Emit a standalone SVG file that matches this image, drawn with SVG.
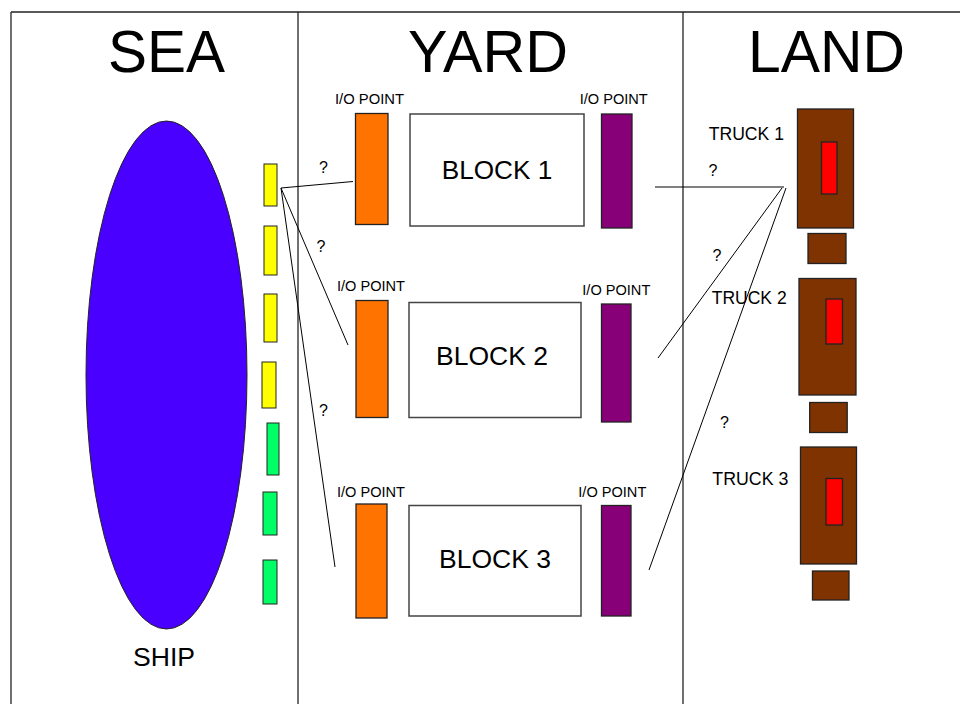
<svg xmlns="http://www.w3.org/2000/svg" width="960" height="704" viewBox="0 0 960 704">
<style>
text{font-family:"Liberation Sans",Arial,sans-serif;fill:#000}
.title{font-size:60px;text-anchor:middle}
.blk{font-size:26px;text-anchor:middle}
.io{font-size:14px}
.trk{font-size:17.5px}
.q{font-size:16px}
.lbl{font-size:25px;text-anchor:middle}
.frame{stroke:#222;stroke-width:1.3;fill:none}
.conn line{stroke:#000;stroke-width:1}
.block{fill:#fff;stroke:#444;stroke-width:1.5}
.yel{fill:#ffff00;stroke:#222;stroke-width:1}
.grn{fill:#00ff66;stroke:#222;stroke-width:1}
.org{fill:#ff7300;stroke:#222;stroke-width:1.3}
.pur{fill:#870077;stroke:#222;stroke-width:1.3}
.brn{fill:#7f3300;stroke:#222;stroke-width:1.3}
.red{fill:#ff0000;stroke:#222;stroke-width:1.3}
</style>
<rect width="960" height="704" fill="#fff"/>
<g id="frame">
<line class="frame" x1="11" y1="12" x2="960" y2="12"/>
<line class="frame" x1="11" y1="12" x2="11" y2="704"/>
<line class="frame" x1="298" y1="12" x2="298" y2="704"/>
<line class="frame" x1="683" y1="12" x2="683" y2="704"/>
</g>
<g id="titles">
<text class="title" x="166.5" y="72" textLength="117" lengthAdjust="spacingAndGlyphs">SEA</text>
<text class="title" x="488" y="72" textLength="160" lengthAdjust="spacingAndGlyphs">YARD</text>
<text class="title" x="826.5" y="72" textLength="157" lengthAdjust="spacingAndGlyphs">LAND</text>
</g>
<g id="ship">
<ellipse cx="166.5" cy="375" rx="80.5" ry="254" fill="#4a00ff" stroke="#222" stroke-width="1"/>
<text class="lbl" x="164" y="666" textLength="62" lengthAdjust="spacingAndGlyphs">SHIP</text>
</g>
<g id="quay">
<rect class="yel" x="264" y="164" width="13" height="42"/>
<rect class="yel" x="264" y="226" width="13" height="49"/>
<rect class="yel" x="264" y="294" width="13" height="48"/>
<rect class="yel" x="262" y="362" width="14" height="46"/>
<rect class="grn" x="267" y="423" width="12" height="52"/>
<rect class="grn" x="263" y="492" width="14" height="43"/>
<rect class="grn" x="263" y="560" width="14" height="44"/>
</g>
<g id="connectors" class="conn">
<line x1="281" y1="188" x2="353" y2="181.5"/>
<line x1="281" y1="188" x2="348" y2="345"/>
<line x1="281" y1="188" x2="335" y2="567"/>
<line x1="655" y1="187" x2="784" y2="187"/>
<line x1="782" y1="188" x2="658" y2="358"/>
<line x1="786" y1="188" x2="649" y2="570"/>
</g>
<g id="questions">
<text class="q" x="319" y="172.5">?</text>
<text class="q" x="316.5" y="251.5">?</text>
<text class="q" x="319" y="416">?</text>
<text class="q" x="708.5" y="176">?</text>
<text class="q" x="712.5" y="260.5">?</text>
<text class="q" x="720" y="427.5">?</text>
</g>
<g id="block1">
<text class="io" x="335" y="104.3" textLength="69" lengthAdjust="spacingAndGlyphs">I/O POINT</text>
<rect class="org" x="355.5" y="113.5" width="32.5" height="111"/>
<rect class="block" x="410" y="114" width="174" height="112"/>
<text class="blk" x="497" y="178.7" textLength="110.6" lengthAdjust="spacingAndGlyphs">BLOCK 1</text>
<text class="io" x="579.7" y="104.3" textLength="68" lengthAdjust="spacingAndGlyphs">I/O POINT</text>
<rect class="pur" x="601.5" y="114" width="30.5" height="114"/>
</g>
<g id="block2">
<text class="io" x="337" y="291" textLength="68" lengthAdjust="spacingAndGlyphs">I/O POINT</text>
<rect class="org" x="356" y="300.5" width="32" height="117"/>
<rect class="block" x="409" y="302.5" width="172" height="115"/>
<text class="blk" x="492" y="365.3" textLength="112" lengthAdjust="spacingAndGlyphs">BLOCK 2</text>
<text class="io" x="582.3" y="295.3" textLength="68" lengthAdjust="spacingAndGlyphs">I/O POINT</text>
<rect class="pur" x="601.5" y="304" width="29.5" height="118"/>
</g>
<g id="block3">
<text class="io" x="337" y="497.3" textLength="68" lengthAdjust="spacingAndGlyphs">I/O POINT</text>
<rect class="org" x="356" y="504" width="31" height="114"/>
<rect class="block" x="409" y="505.5" width="172" height="110.5"/>
<text class="blk" x="495" y="568" textLength="112" lengthAdjust="spacingAndGlyphs">BLOCK 3</text>
<text class="io" x="578.3" y="497.3" textLength="68" lengthAdjust="spacingAndGlyphs">I/O POINT</text>
<rect class="pur" x="601.5" y="505.5" width="29.5" height="110.5"/>
</g>
<g id="truck1">
<text class="trk" x="708.7" y="140" textLength="75.3" lengthAdjust="spacingAndGlyphs">TRUCK 1</text>
<rect class="brn" x="797.5" y="109" width="56" height="119"/>
<rect class="red" x="821.5" y="142" width="15.5" height="52"/>
<rect class="brn" x="808" y="233.5" width="38" height="30"/>
</g>
<g id="truck2">
<text class="trk" x="711.7" y="304.3" textLength="75" lengthAdjust="spacingAndGlyphs">TRUCK 2</text>
<rect class="brn" x="799" y="278.5" width="57" height="116.5"/>
<rect class="red" x="826" y="299" width="16.5" height="45"/>
<rect class="brn" x="809.7" y="402.5" width="37.5" height="30"/>
</g>
<g id="truck3">
<text class="trk" x="712.3" y="485" textLength="76" lengthAdjust="spacingAndGlyphs">TRUCK 3</text>
<rect class="brn" x="800.5" y="447" width="56" height="117"/>
<rect class="red" x="826" y="478.5" width="16.5" height="46.5"/>
<rect class="brn" x="812.5" y="571" width="36.5" height="29"/>
</g>
</svg>
